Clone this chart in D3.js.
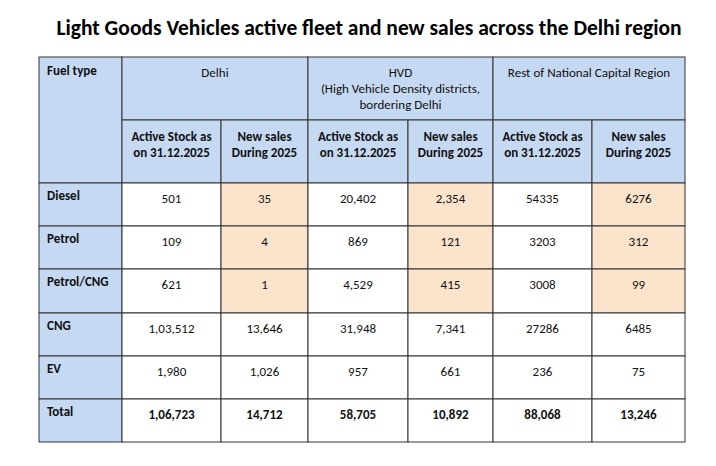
<!DOCTYPE html>
<html><head><meta charset="utf-8">
<script src="https://cdn.jsdelivr.net/npm/d3@7"></script>
<style>body{margin:0;background:#fff}</style></head>
<body><svg id="c" width="716" height="466"></svg>
<script>
const title = "Light Goods Vehicles active fleet and new sales across the Delhi region";
const fuelTypes = ["Diesel","Petrol","Petrol/CNG","CNG","EV","Total"];
const regions = [["Delhi"],["HVD","(High Vehicle Density districts,","bordering Delhi"],["Rest of National Capital Region"]];
const subHeads = [["Active Stock as","on 31.12.2025"],["New sales","During 2025"]];
const delhiStock = ["501","109","621","1,03,512","1,980","1,06,723"];
const delhiSales = ["35","4","1","13,646","1,026","14,712"];
const hvdStock = ["20,402","869","4,529","31,948","957","58,705"];
const hvdSales = ["2,354","121","415","7,341","661","10,892"];
const restStock = ["54335","3203","3008","27286","236","88,068"];
const restSales = ["6276","312","99","6485","75","13,246"];
const highlighted = ["Diesel","Petrol","Petrol/CNG"];

const svg = d3.select("#c");
const font = "Calibri, Carlito, Lato, sans-serif";
const colEdges = [39,122,221,308,408,493,592,685];
const rowEdges = [57,120,183,226,269,313,356,399,442];
const blue="#c6d9f3", peach="#fce4cc", line="#333";
svg.append("text").attr("x",369).attr("y",35).attr("text-anchor","middle")
  .attr("font-family",font).attr("font-weight","bold").attr("font-size",21.5).attr("fill","#000").text(title);
const g = svg.append("g");
function cell(x0,x1,y0,y1,fill){g.append("rect").attr("x",x0).attr("y",y0).attr("width",x1-x0).attr("height",y1-y0).attr("fill",fill).attr("stroke",line).attr("stroke-width",1);}
function txt(x,y,lines,opt={}){const t=g.append("text").attr("x",x).attr("y",y).attr("text-anchor",opt.anchor||"middle")
  .attr("font-family",font).attr("font-size",13).attr("font-weight",opt.bold?"bold":"normal").attr("fill","#111");
  lines.forEach((l,i)=>t.append("tspan").attr("x",x).attr("dy",i?16:0).text(l));}
cell(colEdges[0],colEdges[1],rowEdges[0],rowEdges[2],blue);
txt(47,rowEdges[0]+18,["Fuel type"],{anchor:"start",bold:true});
regions.forEach((r,i)=>{
  const x0=colEdges[1+2*i],x1=colEdges[3+2*i];
  cell(x0,x1,rowEdges[0],rowEdges[1],blue);
  txt((x0+x1)/2,rowEdges[0]+20,r);
  subHeads.forEach((s,j)=>{const a=colEdges[1+2*i+j],b=colEdges[2+2*i+j];
    cell(a,b,rowEdges[1],rowEdges[2],blue); txt((a+b)/2,rowEdges[1]+21,s,{bold:true});});
});
const cols=[delhiStock,delhiSales,hvdStock,hvdSales,restStock,restSales];
fuelTypes.forEach((f,r)=>{
  const y0=rowEdges[2+r],y1=rowEdges[3+r];
  cell(colEdges[0],colEdges[1],y0,y1,blue);
  txt(47,y0+17,[f],{anchor:"start",bold:true});
  cols.forEach((c,k)=>{
    const a=colEdges[1+k],b=colEdges[2+k];
    const fill=(k%2===1&&highlighted.includes(f))?peach:"#fff";
    cell(a,b,y0,y1,fill);
    txt((a+b)/2,y0+20,[c[r]],{bold:f==="Total"});
  });
});
</script></body></html>
